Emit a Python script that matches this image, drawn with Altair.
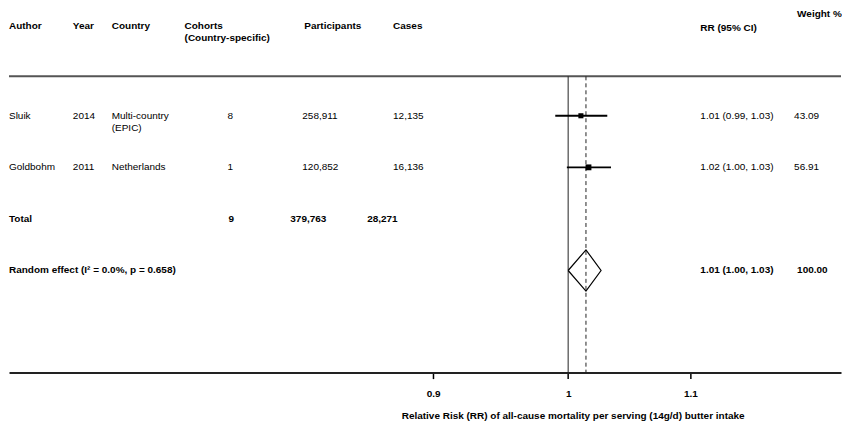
import altair as alt
import pandas as pd

FONT = "Liberation Sans"

# ---------------- data ----------------
authors = ["Sluik", "Goldbohm"]
years = ["2014", "2011"]
countries = ["Multi-country\n(EPIC)", "Netherlands"]
cohorts = [8, 1]
participants = [258911, 120852]
cases = [12135, 16136]
rr = [1.010, 1.016]
ci_low = [0.990, 0.999]
ci_high = [1.031, 1.034]
rr_labels = ["1.01 (0.99, 1.03)", "1.02 (1.00, 1.03)"]
weights = [43.09, 56.91]

total_label = "Total"
total_cohorts = [9]
total_participants = [379763]
total_cases = [28271]

pooled_name = "Random effect (I\u00b2 = 0.0%, p = 0.658)"
pooled_rr = [1.014]
pooled_low = [1.000]
pooled_high = [1.026]
pooled_label = ["1.01 (1.00, 1.03)"]
pooled_weight = [100.00]

headers = ["Author", "Year", "Country", "Cohorts\n(Country-specific)",
           "Participants", "Cases", "RR (95% CI)", "Weight %"]
tick_values = [0.9, 1, 1.1]
x_title = "Relative Risk (RR) of all-cause mortality per serving (14g/d) butter intake"

# ---------------- layout ----------------
W, H = 834, 365
X_DOMAIN = [0.6465, 1.2372]
Y_DOMAIN = [-1.08, 5.98]
HEADER_ROW = -0.742
RR_HEADER_ROW = -0.70
WEIGHT_HEADER_ROW = -0.964
TOP_LINE_ROW = 0.2355
DIAMOND_HALF = 0.40

COL_X = {"Author": 0, "Year": 64, "Country": 103, "Cohorts\n(Country-specific)": 176,
         "Participants": 296, "Cases": 385, "RR (95% CI)": 693, "Weight %": 790}
VAL_X = {"author": 0, "year": 64, "country": 103, "cohorts": 219, "participants": 294,
         "cases": 385, "rr": 693, "weight": 787}
TOT_X = {"cohorts": 220, "participants": 282, "cases": 359}
POOL_X = {"rr": 693, "weight": 790}

xscale = alt.Scale(type="log", domain=X_DOMAIN, nice=False, zero=False)
yscale = alt.Scale(domain=Y_DOMAIN, reverse=True, nice=False, zero=False)

XAXIS = alt.Axis(values=tick_values, format="~g", title=x_title, grid=False,
                 domainColor="#222", domainWidth=2, tickColor="#000", tickWidth=1.5,
                 tickSize=6, labelFont=FONT, labelFontSize=10, labelFontWeight="bold",
                 labelColor="#000", labelPadding=10, labelFlush=False,
                 titleFont=FONT, titleFontSize=10, titleFontWeight="bold",
                 titleColor="#000", titlePadding=12, titleX=565, titleAlign="center")

studies = pd.DataFrame({
    "author": authors, "year": years, "country": countries, "cohorts": cohorts,
    "participants": participants, "cases": cases, "rr": rr, "lo": ci_low,
    "hi": ci_high, "label": rr_labels, "weight": weights,
})
studies["row"] = range(1, len(studies) + 1)
TOTAL_ROW = len(studies) + 1
POOL_ROW = len(studies) + 2

totals = pd.DataFrame({"name": [total_label], "cohorts": total_cohorts,
                       "participants": total_participants, "cases": total_cases,
                       "row": [TOTAL_ROW]})
pooled = pd.DataFrame({"name": [pooled_name], "rr": pooled_rr, "lo": pooled_low,
                       "hi": pooled_high, "label": pooled_label, "weight": pooled_weight,
                       "row": [POOL_ROW]})

diamond = pd.DataFrame({
    "order": [0, 1, 2, 3, 4],
    "x": [pooled_low[0], pooled_rr[0], pooled_high[0], pooled_rr[0], pooled_low[0]],
    "y": [POOL_ROW, POOL_ROW - DIAMOND_HALF, POOL_ROW, POOL_ROW + DIAMOND_HALF, POOL_ROW],
})


def Y(field="row"):
    return alt.Y(f"{field}:Q", scale=yscale, axis=None)


def text_layer(df, field, x, bold=False, fmt=None, multiline=False):
    kw = dict(align="left", font=FONT, fontSize=10, color="#000",
              fontWeight="bold" if bold else "normal")
    if multiline:
        kw.update(baseline="top", dy=-5, lineBreak="\n", lineHeight=12)
    else:
        kw.update(baseline="middle")
    t = alt.Text(f"{field}:N") if fmt is None else alt.Text(f"{field}:Q", format=fmt)
    return alt.Chart(df).mark_text(**kw).encode(x=alt.value(x), y=Y(), text=t)


layers = []

# separator line under header
layers.append(alt.Chart(pd.DataFrame({"v": [TOP_LINE_ROW]})).mark_rule(
    color="#555", strokeWidth=2).encode(y=alt.Y("v:Q", scale=yscale, axis=None)))

# null line and pooled estimate line
vlines = pd.DataFrame({"x": [1.0], "y0": [TOP_LINE_ROW], "y1": [Y_DOMAIN[1]]})
layers.append(alt.Chart(vlines).mark_rule(color="#222", strokeWidth=1).encode(
    x=alt.X("x:Q", scale=xscale, axis=XAXIS), y=Y("y0"), y2="y1:Q"))
plines = pd.DataFrame({"x": pooled_rr, "y0": [TOP_LINE_ROW], "y1": [Y_DOMAIN[1]]})
layers.append(alt.Chart(plines).mark_rule(color="#222", strokeWidth=1,
                                          strokeDash=[4, 3]).encode(
    x=alt.X("x:Q", scale=xscale, axis=XAXIS), y=Y("y0"), y2="y1:Q"))

# CIs and points
layers.append(alt.Chart(studies).mark_rule(color="#000", strokeWidth=1.8).encode(
    x=alt.X("lo:Q", scale=xscale, axis=XAXIS), x2="hi:Q", y=Y()))
layers.append(alt.Chart(studies).mark_square(color="#000", opacity=1, filled=True).encode(
    x=alt.X("rr:Q", scale=xscale, axis=XAXIS), y=Y(),
    size=alt.Size("weight:Q", scale=alt.Scale(domain=[0, 100], range=[0, 60]), legend=None)))

# diamond
layers.append(alt.Chart(diamond).mark_line(color="#000", strokeWidth=1.2).encode(
    x=alt.X("x:Q", scale=xscale, axis=XAXIS), y=alt.Y("y:Q", scale=yscale, axis=None),
    order="order:Q"))

# headers
for h in headers:
    row = HEADER_ROW
    if h == "RR (95% CI)":
        row = RR_HEADER_ROW
    if h == "Weight %":
        row = WEIGHT_HEADER_ROW
    d = pd.DataFrame({"h": [h], "row": [row]})
    layers.append(text_layer(d, "h", COL_X[h], bold=True, multiline="\n" in h))

# study rows
layers.append(text_layer(studies, "author", VAL_X["author"]))
layers.append(text_layer(studies, "year", VAL_X["year"]))
layers.append(text_layer(studies[studies.country.str.contains("\n")], "country",
                         VAL_X["country"], multiline=True))
layers.append(text_layer(studies[~studies.country.str.contains("\n")], "country",
                         VAL_X["country"]))
layers.append(text_layer(studies, "cohorts", VAL_X["cohorts"], fmt="d"))
layers.append(text_layer(studies, "participants", VAL_X["participants"], fmt=",d"))
layers.append(text_layer(studies, "cases", VAL_X["cases"], fmt=",d"))
layers.append(text_layer(studies, "label", VAL_X["rr"]))
layers.append(text_layer(studies, "weight", VAL_X["weight"], fmt=".2f"))

# total row
layers.append(text_layer(totals, "name", VAL_X["author"], bold=True))
layers.append(text_layer(totals, "cohorts", TOT_X["cohorts"], bold=True, fmt="d"))
layers.append(text_layer(totals, "participants", TOT_X["participants"], bold=True, fmt=",d"))
layers.append(text_layer(totals, "cases", TOT_X["cases"], bold=True, fmt=",d"))

# pooled row
layers.append(text_layer(pooled, "name", VAL_X["author"], bold=True))
layers.append(text_layer(pooled, "label", POOL_X["rr"], bold=True))
layers.append(text_layer(pooled, "weight", POOL_X["weight"], bold=True, fmt=".2f"))

chart = alt.layer(*layers).properties(
    width=W, height=H, padding=0, background="white"
).configure_view(strokeWidth=0)

chart.save("out.html", embed_options={"renderer": "svg", "actions": False})
